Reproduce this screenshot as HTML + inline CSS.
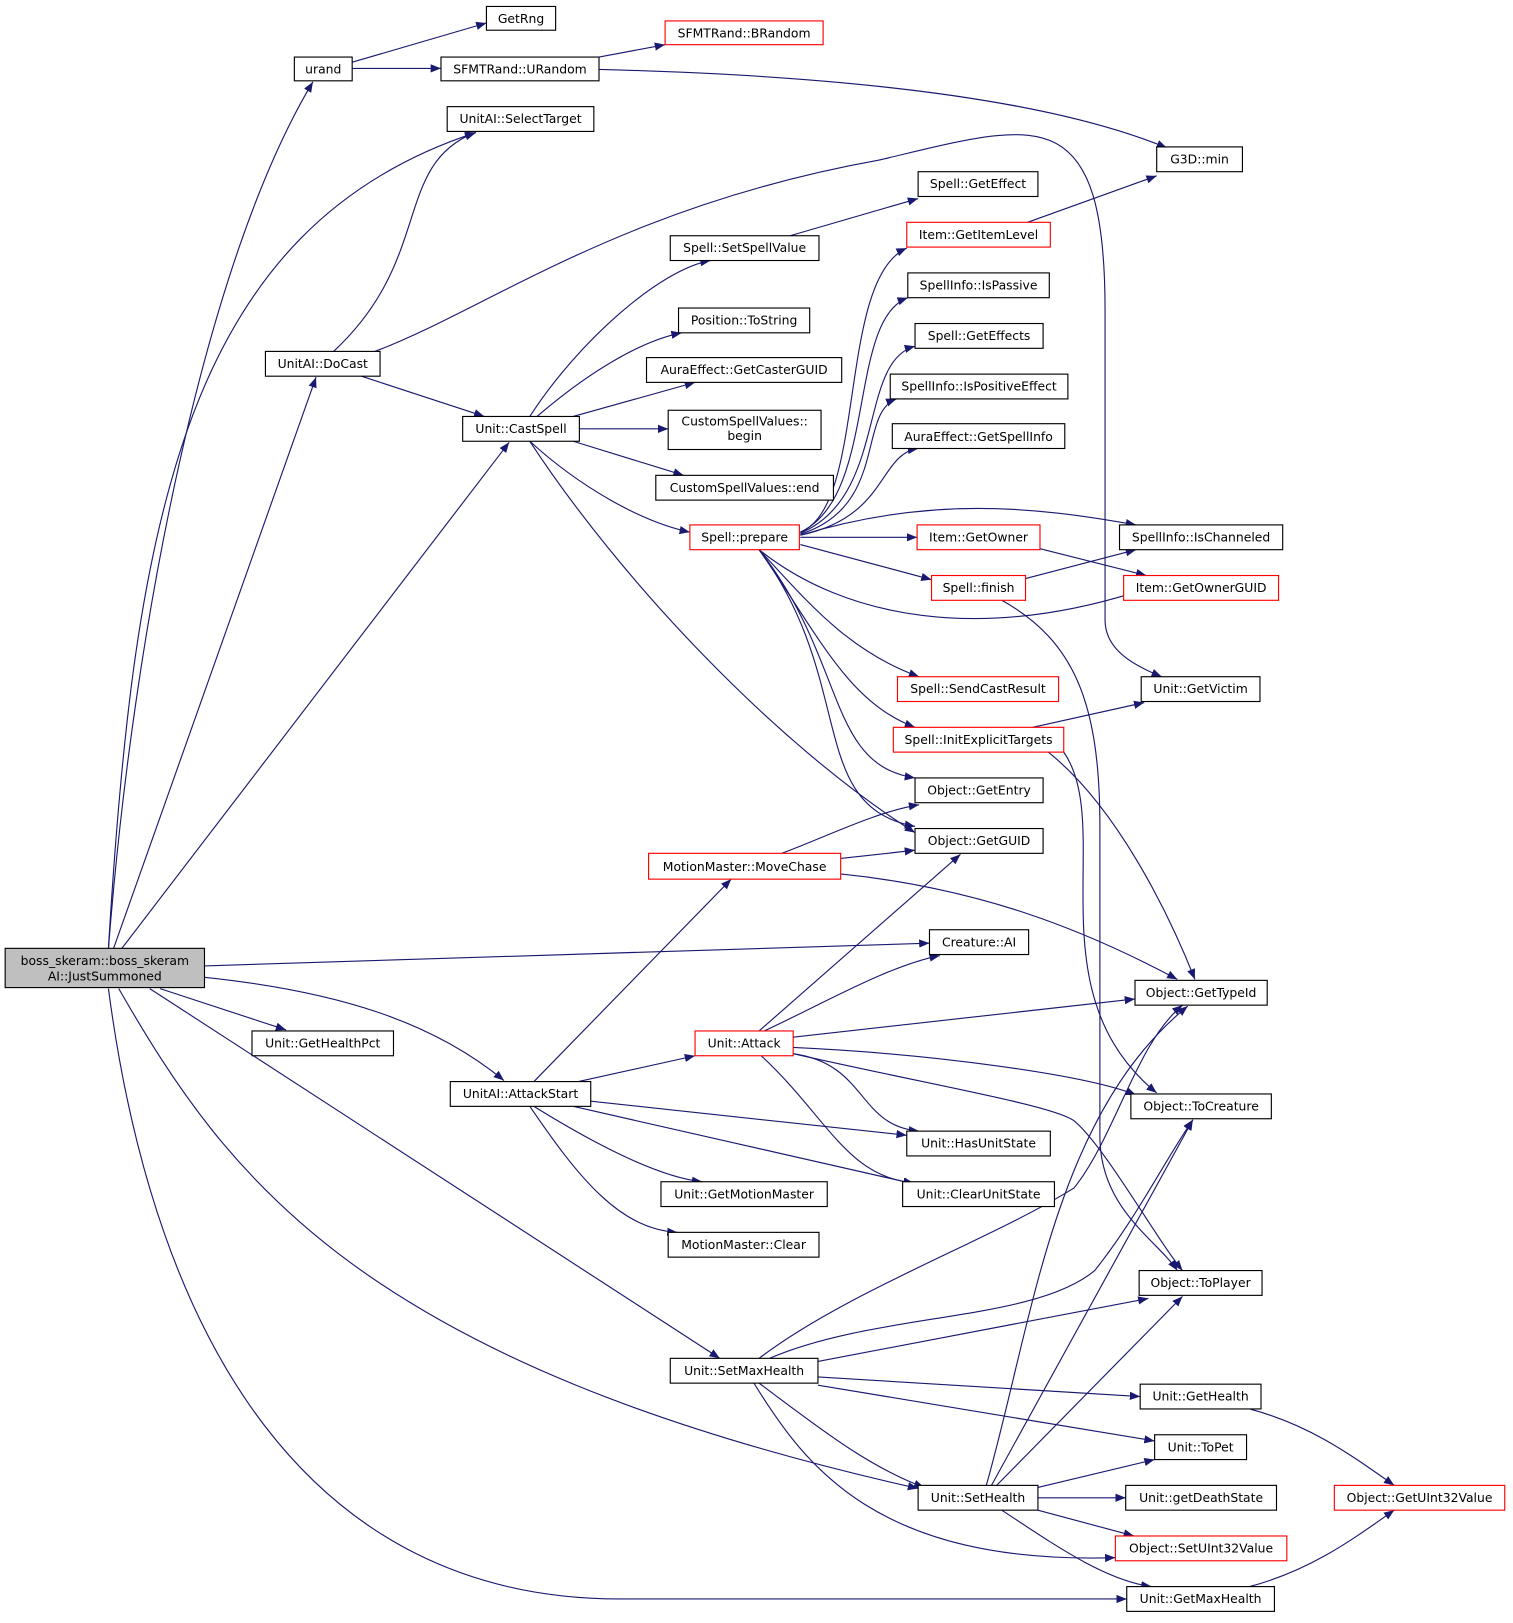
<!DOCTYPE html>
<html><head><meta charset="utf-8"><style>html,body{margin:0;padding:0;background:#fff}svg{display:block}</style></head><body>
<svg xmlns="http://www.w3.org/2000/svg" width="1513" height="1623" viewBox="0 0 1465 1571">
<defs><marker id="a" viewBox="0 0 10 10" refX="10" refY="5" markerWidth="10" markerHeight="10" markerUnits="userSpaceOnUse" orient="auto"><path d="M0,1 L10,5 L0,9 z" fill="#191970"/></marker></defs>
<g fill="none" stroke="#191970" stroke-width="1.1" marker-end="url(#a)">
<path d="M105,918 C130,600 200,250 303,79"/>
<path d="M105,918 C130,500 180,220 461,128"/>
<path d="M110,918 L306,365"/>
<path d="M118,918 L493,428"/>
<path d="M198,935 L900,913"/>
<path d="M155,957 L277,997"/>
<path d="M198,946 C330,960 420,990 488,1046"/>
<path d="M145,957 L697,1315"/>
<path d="M115,957 C220,1140 350,1320 889,1441"/>
<path d="M105,957 C150,1300 300,1548 600,1548 L1091,1548"/>
<path d="M341,60 L471,22"/>
<path d="M341,66 L427,66"/>
<path d="M580,55 L644,43"/>
<path d="M580,67 C900,75 1050,110 1130,143"/>
<path d="M323,340 C420,250 380,160 460,128"/>
<path d="M363,340 C470,300 600,200 850,155 C1000,120 1070,90 1070,300 L1070,600 C1070,630 1100,645 1125,655"/>
<path d="M350,364 L469,403"/>
<path d="M513,403 C560,330 640,260 688,252"/>
<path d="M520,403 C570,360 620,330 660,322"/>
<path d="M555,403 L673,370"/>
<path d="M561,415 L647,415"/>
<path d="M555,427 L662,460"/>
<path d="M513,427 C560,470 620,505 668,515"/>
<path d="M513,427 C600,560 750,720 886,806"/>
<path d="M765,228 L889,192"/>
<path d="M775,515 C840,490 810,270 878,240"/>
<path d="M775,515 C850,480 820,310 879,288"/>
<path d="M775,516 C860,480 830,350 886,335"/>
<path d="M775,517 C860,490 830,400 868,386"/>
<path d="M775,518 C860,500 850,440 889,434"/>
<path d="M775,518 C900,480 1000,490 1100,508"/>
<path d="M775,520 L888,520"/>
<path d="M775,527 L902,561"/>
<path d="M735,532 C820,600 950,620 1100,573"/>
<path d="M735,532 C780,580 820,630 890,655"/>
<path d="M735,532 C790,610 820,680 886,704"/>
<path d="M735,532 C820,640 800,740 886,753"/>
<path d="M735,532 C830,660 780,780 886,800"/>
<path d="M995,215 L1120,170"/>
<path d="M1007,531 L1110,557"/>
<path d="M993,560 L1100,532"/>
<path d="M970,581 C1040,620 1065,680 1065,800 L1065,1100 C1065,1170 1120,1200 1140,1230"/>
<path d="M1000,704 L1108,680"/>
<path d="M1015,728 C1080,780 1130,880 1157,948"/>
<path d="M1030,728 C1080,800 1000,960 1120,1058"/>
<path d="M757,826 C800,810 850,785 890,779"/>
<path d="M814,831 L886,823"/>
<path d="M814,846 C950,860 1050,900 1140,948"/>
<path d="M735,998 L930,827"/>
<path d="M740,998 C800,970 860,935 910,925"/>
<path d="M768,1004 L1099,967"/>
<path d="M768,1014 C900,1020 1050,1040 1100,1060"/>
<path d="M768,1020 C840,1030 830,1090 890,1095"/>
<path d="M737,1022 C800,1080 820,1140 885,1145"/>
<path d="M768,1020 C900,1050 1020,1070 1040,1085 C1070,1110 1120,1200 1145,1230"/>
<path d="M517,1047 L708,851"/>
<path d="M560,1047 L673,1022"/>
<path d="M572,1066 L878,1099"/>
<path d="M555,1071 L885,1146"/>
<path d="M517,1071 C580,1110 640,1140 680,1144"/>
<path d="M513,1071 C560,1140 600,1190 656,1193"/>
<path d="M735,1315 C820,1250 960,1200 1040,1150 C1080,1100 1100,1010 1145,973"/>
<path d="M745,1315 C850,1270 1000,1280 1060,1230 C1100,1180 1130,1120 1155,1084"/>
<path d="M792,1318 L1112,1257"/>
<path d="M792,1333 L1104,1352"/>
<path d="M792,1341 L1118,1395"/>
<path d="M735,1339 C790,1380 840,1420 895,1440"/>
<path d="M730,1339 C780,1420 850,1515 1080,1508"/>
<path d="M955,1438 C1000,1280 1020,1080 1150,974"/>
<path d="M960,1438 L1155,1084"/>
<path d="M965,1438 L1145,1255"/>
<path d="M1005,1440 L1118,1413"/>
<path d="M1005,1450 L1090,1450"/>
<path d="M1005,1462 L1098,1487"/>
<path d="M970,1462 C1020,1495 1070,1530 1115,1536"/>
<path d="M1210,1364 C1270,1380 1310,1410 1350,1438"/>
<path d="M1210,1536 C1270,1520 1310,1490 1350,1462"/>
</g>
<g font-family="DejaVu Sans, Liberation Sans, sans-serif" font-size="12" text-anchor="middle" stroke-width="1.1">
<rect x="5" y="918" width="193" height="38" fill="#bfbfbf" stroke="#000"/>
<text x="101.5" y="934">boss_skeram::boss_skeram</text><text x="101.5" y="949">AI::JustSummoned</text>
<g fill="#fff" stroke="#000">
<rect x="285" y="55" width="56" height="23"/><rect x="471" y="6" width="67" height="23"/>
<rect x="427" y="55" width="153" height="23"/><rect x="433" y="103" width="142" height="24"/>
<rect x="1120" y="142" width="83" height="24"/><rect x="889" y="166" width="116" height="24"/>
<rect x="649" y="228" width="144" height="24"/><rect x="879" y="264" width="137" height="24"/>
<rect x="657" y="298" width="127" height="24"/><rect x="886" y="313" width="124" height="24"/>
<rect x="257" y="340" width="111" height="24"/><rect x="626" y="346" width="189" height="24"/>
<rect x="862" y="362" width="172" height="24"/><rect x="448" y="403" width="113" height="24"/>
<rect x="647" y="397" width="148" height="38"/><rect x="864" y="410" width="167" height="24"/>
<rect x="635" y="460" width="172" height="24"/><rect x="1084" y="508" width="158" height="24"/>
<rect x="1105" y="655" width="115" height="24"/><rect x="886" y="753" width="124" height="24"/>
<rect x="886" y="802" width="124" height="24"/><rect x="900" y="900" width="96" height="24"/>
<rect x="1099" y="949" width="128" height="24"/><rect x="244" y="998" width="137" height="24"/>
<rect x="436" y="1047" width="136" height="24"/><rect x="1095" y="1059" width="136" height="24"/>
<rect x="878" y="1095" width="139" height="24"/><rect x="640" y="1144" width="161" height="24"/>
<rect x="874" y="1144" width="147" height="24"/><rect x="647" y="1193" width="146" height="24"/>
<rect x="1103" y="1230" width="119" height="24"/><rect x="649" y="1315" width="143" height="24"/>
<rect x="1104" y="1340" width="117" height="24"/><rect x="1118" y="1389" width="89" height="24"/>
<rect x="889" y="1438" width="116" height="24"/><rect x="1090" y="1438" width="146" height="24"/>
<rect x="1091" y="1536" width="143" height="24"/>
</g>
<g fill="#fff" stroke="#f00">
<rect x="644" y="20" width="153" height="23"/><rect x="878" y="215" width="139" height="24"/>
<rect x="668" y="508" width="106" height="24"/><rect x="888" y="508" width="119" height="24"/>
<rect x="902" y="557" width="91" height="24"/><rect x="1088" y="557" width="150" height="24"/>
<rect x="869" y="655" width="156" height="24"/><rect x="865" y="704" width="165" height="24"/>
<rect x="628" y="826" width="186" height="25"/><rect x="673" y="998" width="95" height="24"/>
<rect x="1292" y="1438" width="165" height="24"/><rect x="1080" y="1487" width="166" height="24"/>
</g>
<g fill="#000">
<text x="313" y="71">urand</text><text x="504.5" y="22">GetRng</text>
<text x="720.5" y="36">SFMTRand::BRandom</text><text x="503.5" y="71">SFMTRand::URandom</text>
<text x="504" y="119">UnitAI::SelectTarget</text><text x="1161.5" y="158">G3D::min</text>
<text x="947" y="182">Spell::GetEffect</text><text x="721" y="244">Spell::SetSpellValue</text>
<text x="947.5" y="231">Item::GetItemLevel</text><text x="947.5" y="280">SpellInfo::IsPassive</text>
<text x="720.5" y="314">Position::ToString</text><text x="948" y="329">Spell::GetEffects</text>
<text x="312.5" y="356">UnitAI::DoCast</text><text x="720.5" y="362">AuraEffect::GetCasterGUID</text>
<text x="948" y="378">SpellInfo::IsPositiveEffect</text><text x="504.5" y="419">Unit::CastSpell</text>
<text x="721" y="412">CustomSpellValues::</text><text x="721" y="426">begin</text>
<text x="947.5" y="427">AuraEffect::GetSpellInfo</text><text x="721" y="476">CustomSpellValues::end</text>
<text x="721" y="524">Spell::prepare</text><text x="947.5" y="524">Item::GetOwner</text>
<text x="1163" y="524">SpellInfo::IsChanneled</text><text x="947.5" y="573">Spell::finish</text>
<text x="1163" y="573">Item::GetOwnerGUID</text><text x="947" y="671">Spell::SendCastResult</text>
<text x="1162.5" y="671">Unit::GetVictim</text><text x="947.5" y="720">Spell::InitExplicitTargets</text>
<text x="948" y="769">Object::GetEntry</text><text x="948" y="818">Object::GetGUID</text>
<text x="721" y="843">MotionMaster::MoveChase</text><text x="948" y="916">Creature::AI</text>
<text x="1163" y="965">Object::GetTypeId</text><text x="312.5" y="1014">Unit::GetHealthPct</text>
<text x="720.5" y="1014">Unit::Attack</text><text x="504" y="1063">UnitAI::AttackStart</text>
<text x="1163" y="1075">Object::ToCreature</text><text x="947.5" y="1111">Unit::HasUnitState</text>
<text x="720.5" y="1160">Unit::GetMotionMaster</text><text x="947.5" y="1160">Unit::ClearUnitState</text>
<text x="720" y="1209">MotionMaster::Clear</text><text x="1162.5" y="1246">Object::ToPlayer</text>
<text x="720.5" y="1331">Unit::SetMaxHealth</text><text x="1162.5" y="1356">Unit::GetHealth</text>
<text x="1162.5" y="1405">Unit::ToPet</text><text x="947" y="1454">Unit::SetHealth</text>
<text x="1163" y="1454">Unit::getDeathState</text><text x="1374.5" y="1454">Object::GetUInt32Value</text>
<text x="1163" y="1503">Object::SetUInt32Value</text><text x="1162.5" y="1552">Unit::GetMaxHealth</text>
</g></g>
</svg>
</body></html>
